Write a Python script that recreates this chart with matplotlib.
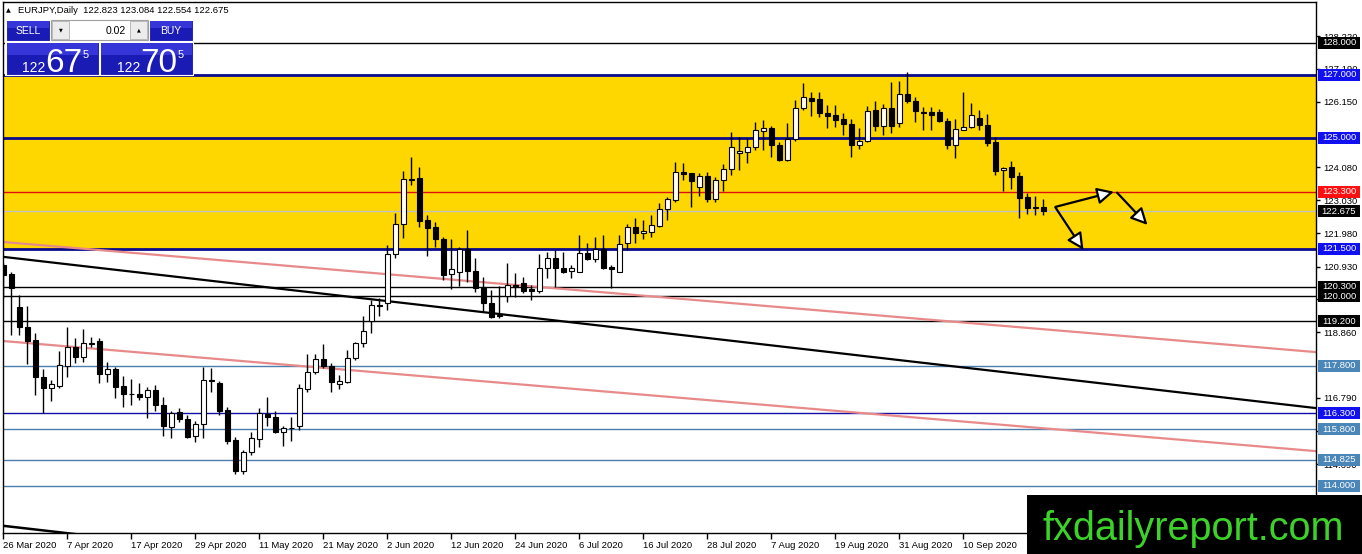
import matplotlib
matplotlib.use("Agg")
import matplotlib.pyplot as plt
import matplotlib.transforms as mtransforms
from matplotlib.patches import Rectangle

# ---------------- data ----------------
symbol_header = "EURJPY,Daily  122.823 123.084 122.554 122.675"

date_tick_idx = [0, 8, 16, 24, 32, 40, 48, 56, 64, 72, 80, 88, 96, 104, 112, 120]
date_tick_labels = ["26 Mar 2020", "7 Apr 2020", "17 Apr 2020", "29 Apr 2020",
                    "11 May 2020", "21 May 2020", "2 Jun 2020", "12 Jun 2020",
                    "24 Jun 2020", "6 Jul 2020", "16 Jul 2020", "28 Jul 2020",
                    "7 Aug 2020", "19 Aug 2020", "31 Aug 2020", "10 Sep 2020"]

opens = [120.98, 120.70, 119.67, 119.01, 118.61, 117.43, 117.09, 117.16, 117.80, 118.40,
         118.09, 118.52, 118.59, 117.54, 117.70, 117.16, 116.92, 116.91, 116.82, 117.03,
         116.56, 115.87, 116.33, 116.12, 115.58, 115.95, 117.36, 117.26, 116.40, 115.45,
         114.48, 115.06, 115.47, 116.27, 116.17, 115.72, 115.82, 115.90, 117.06, 117.59,
         118.00, 117.78, 117.22, 117.30, 118.03, 118.52, 119.21, 119.72, 119.77, 121.32,
         122.28, 123.69, 123.72, 122.41, 122.18, 121.80, 120.69, 120.77, 121.48, 120.80,
         120.25, 119.79, 119.40, 120.00, 120.35, 120.41, 120.22, 120.17, 120.88, 121.20,
         120.88, 120.80, 120.77, 121.35, 121.16, 121.49, 120.93, 120.77, 121.67, 122.19,
         121.99, 122.04, 122.22, 122.74, 123.04, 123.93, 123.88, 123.44, 123.80, 123.06,
         123.67, 124.02, 124.51, 124.56, 124.70, 125.23, 125.30, 124.78, 124.30, 124.96,
         125.94, 126.25, 126.22, 125.80, 125.72, 125.59, 125.44, 124.78, 124.90, 125.89,
         125.37, 125.95, 125.47, 126.39, 126.16, 125.83, 125.82, 125.82, 125.54, 124.79,
         125.26, 125.34, 125.63, 125.40, 124.87, 123.98, 124.07, 123.79, 123.12, 122.82,
         122.823]
highs = [121.05, 120.77, 120.04, 119.69, 118.82, 117.70, 117.35, 118.27, 119.03, 118.67,
         118.96, 118.70, 118.67, 117.91, 117.75, 117.48, 117.37, 117.24, 117.14, 117.19,
         116.82, 116.37, 116.45, 116.24, 116.06, 117.77, 117.72, 117.33, 116.51, 115.56,
         115.14, 115.72, 116.45, 116.82, 116.38, 115.90, 116.17, 117.22, 118.16, 118.16,
         118.49, 117.88, 117.51, 118.30, 118.55, 119.38, 119.88, 119.93, 121.62, 122.63,
         123.96, 124.41, 124.09, 122.56, 122.35, 121.86, 121.80, 121.56, 122.09, 121.20,
         120.61, 120.19, 120.32, 121.04, 120.73, 120.61, 120.35, 121.32, 121.40, 121.46,
         121.40, 120.98, 121.93, 121.67, 121.86, 121.93, 120.98, 121.93, 122.28, 122.46,
         122.41, 122.56, 122.95, 123.14, 124.25, 124.20, 123.88, 123.88, 123.93, 123.76,
         124.18, 125.20, 125.04, 124.99, 125.51, 125.57, 125.38, 124.88, 125.46, 126.20,
         126.73, 126.46, 126.46, 126.04, 126.04, 125.78, 125.59, 125.30, 126.01, 126.16,
         126.07, 126.77, 126.81, 127.07, 126.28, 125.97, 125.97, 125.92, 125.63, 125.61,
         126.45, 126.10, 125.89, 125.76, 125.02, 124.07, 124.28, 123.92, 123.26, 123.15,
         123.084]
lows = [119.94, 118.77, 118.77, 117.86, 116.87, 116.30, 116.69, 117.09, 117.45, 117.88,
        117.93, 118.38, 117.26, 117.28, 116.77, 116.51, 116.56, 116.72, 116.16, 116.38,
        115.59, 115.51, 116.01, 115.51, 115.40, 115.51, 116.98, 116.24, 115.33, 114.38,
        114.38, 114.98, 115.24, 115.90, 115.66, 115.27, 115.43, 115.77, 116.98, 117.53,
        117.72, 116.96, 117.05, 117.24, 117.98, 118.40, 118.85, 119.38, 119.56, 121.20,
        121.83, 123.51, 122.17, 121.27, 121.56, 120.51, 120.22, 120.32, 120.46, 120.14,
        119.51, 119.30, 119.30, 119.80, 119.98, 120.09, 119.88, 120.11, 120.56, 120.30,
        120.72, 120.56, 120.75, 121.14, 121.09, 120.86, 120.25, 120.75, 121.46, 121.67,
        121.80, 121.88, 122.18, 122.41, 122.98, 123.67, 122.81, 123.16, 122.98, 122.98,
        123.33, 123.83, 123.99, 124.20, 124.62, 124.62, 124.39, 124.28, 124.28, 124.91,
        125.88, 125.69, 125.67, 125.30, 125.34, 125.09, 124.41, 124.64, 124.88, 125.23,
        125.10, 125.16, 125.34, 126.10, 125.50, 125.26, 125.26, 125.50, 124.66, 124.37,
        125.26, 125.31, 125.26, 124.74, 123.82, 123.31, 123.40, 122.47, 122.60, 122.57,
        122.554]
closes = [120.67, 120.25, 119.01, 118.59, 117.43, 117.09, 117.21, 117.82, 118.40, 118.09,
          118.51, 118.50, 117.53, 117.70, 117.14, 116.91, 116.90, 116.81, 117.03, 116.55,
          115.90, 116.30, 116.11, 115.56, 115.95, 117.35, 117.33, 116.38, 115.43, 114.48,
          115.06, 115.51, 116.30, 116.17, 115.72, 115.82, 115.83, 117.09, 117.59, 118.00,
          117.79, 117.28, 117.33, 118.03, 118.51, 118.90, 119.72, 119.70, 121.33, 122.28,
          123.69, 123.66, 122.38, 122.16, 121.80, 120.67, 120.85, 121.48, 120.80, 120.25,
          119.79, 119.35, 119.36, 120.35, 120.33, 120.17, 120.16, 120.88, 121.20, 120.88,
          120.77, 120.88, 121.35, 121.16, 121.48, 120.90, 120.85, 121.65, 122.19, 121.99,
          122.06, 122.25, 122.74, 123.06, 123.93, 123.86, 123.65, 123.80, 123.06, 123.67,
          124.02, 124.70, 124.59, 124.70, 125.25, 125.30, 124.78, 124.30, 124.96, 125.94,
          126.28, 126.18, 125.78, 125.69, 125.57, 125.44, 124.78, 124.90, 125.86, 125.37,
          125.95, 125.37, 126.39, 126.16, 125.84, 125.80, 125.71, 125.53, 124.79, 125.28,
          125.34, 125.71, 125.40, 124.84, 123.96, 124.05, 123.76, 123.10, 122.79, 122.79,
          122.675]

# right price-axis grid labels (those fully hidden behind level boxes omitted)
price_ticks = [128.22, 127.19, 126.15, 124.08, 123.03, 121.98, 120.93,
               119.91, 118.86, 116.79, 115.74, 114.69, 113.64]

# horizontal levels
level_prices = [128.000, 127.000, 125.000, 123.300, 122.675, 121.500, 120.300,
                120.000, 119.200, 117.800, 116.300, 115.800, 114.825, 114.000]
zone_top, zone_bottom = 127.000, 121.500

# trend lines: (bar index, price) anchor pairs
black_trend = [(0.0, 121.24), (164.1, 116.46)]
black_trend_lower = [(0.0, 112.74), (164.1, 107.96)]
pink_trend_upper = [(0.0, 121.71), (164.1, 118.23)]
pink_trend_lower = [(0.0, 118.58), (164.1, 115.10)]

# scenario arrows: (start, end) in (bar index, price)
arrows = [((131.5, 122.82), (138.8, 123.30)),
          ((139.2, 123.27), (143.0, 122.25)),
          ((131.5, 122.80), (135.0, 121.46))]

# ---------------- styles ----------------
W, H, DPI = 1362, 554, 100
level_line_style = {
    128.000: ("black", 1.0), 127.000: ("#0a0a8c", 2.0), 125.000: ("#0a0a8c", 2.0),
    123.300: ("#e01010", 1.0), 122.675: ("#c0c0c0", 1.0), 121.500: ("#0a0a8c", 2.0),
    120.300: ("black", 1.0), 120.000: ("black", 1.0), 119.200: ("black", 1.0),
    117.800: ("#4a7fae", 1.0), 116.300: ("#1010a8", 1.0), 115.800: ("#4a7fae", 1.0),
    114.825: ("#4a7fae", 1.0), 114.000: ("#4a7fae", 1.0)}
level_box_color = {
    128.000: "black", 127.000: "#1010f0", 125.000: "#1010f0", 123.300: "#ff1010",
    122.675: "black", 121.500: "#1010f0", 120.300: "black", 120.000: "black",
    119.200: "black", 117.800: "#4a86b8", 116.300: "#1010f0", 115.800: "#4a86b8",
    114.825: "#4a86b8", 114.000: "#4a86b8"}

FONT = "Liberation Sans"
plt.rcParams["font.family"] = [FONT, "DejaVu Sans"]

fig = plt.figure(figsize=(W / DPI, H / DPI), dpi=DPI, facecolor="white")
ax_left, ax_right, ax_top, ax_bot = 3, 1316, 2, 533
ax = fig.add_axes([ax_left / W, (H - ax_bot) / H, (ax_right - ax_left) / W,
                   (ax_bot - ax_top) / H])
ax.set_facecolor("white")

px_per_bar = 8.0
x_left_bar = -0.06
ax.set_xlim(x_left_bar, x_left_bar + (ax_right - ax_left) / px_per_bar)
ppu = 31.64
y_top = 128.0 + (43 - ax_top) / ppu
y_bot = 128.0 - (ax_bot - 43) / ppu
ax.set_ylim(y_bot, y_top)

# zone
ax.axhspan(zone_bottom, zone_top, color="#ffd700", zorder=0.5, lw=0)

# levels
for p in level_prices:
    c, lw = level_line_style[p]
    ax.axhline(p, color=c, lw=lw, zorder=1.2)

# trend lines
for (p0, p1), c, lw in [(black_trend, "black", 1.6), (black_trend_lower, "black", 1.8),
                        (pink_trend_upper, "#e88a8a", 1.6), (pink_trend_lower, "#e88a8a", 1.6)]:
    ax.plot([p0[0], p1[0]], [p0[1], p1[1]], color=c, lw=lw, zorder=1.5,
            solid_capstyle="butt")

# candles
n = len(opens)
xs = list(range(n))
ax.vlines(xs, lows, highs, color="black", lw=1.0, zorder=3)
bottoms = [min(o, c) for o, c in zip(opens, closes)]
heights = [max(abs(c - o), 0.004) for o, c in zip(opens, closes)]
faces = ["white" if c >= o else "black" for o, c in zip(opens, closes)]
ax.bar(xs, heights, bottom=bottoms, width=0.56, color=faces, edgecolor="black",
       linewidth=0.8, zorder=4)

# arrows
for (s, e) in arrows:
    ax.annotate("", xy=e, xytext=s,
                arrowprops=dict(arrowstyle="-|>,head_length=1.0,head_width=0.5",
                                fc="white", ec="black", lw=1.6,
                                shrinkA=0, shrinkB=0), zorder=6)

# x axis
ax.set_xticks(date_tick_idx)
ax.set_xticklabels(date_tick_labels, ha="left", fontsize=6.8)
ax.tick_params(axis="x", direction="out", length=4, width=1, pad=2, colors="black")

# y axis on the right
ax.yaxis.tick_right()
ax.set_yticks(price_ticks)
ax.set_yticklabels([f"{v:.3f}" for v in price_ticks], fontsize=6.8)
ax.tick_params(axis="y", direction="out", length=3, width=1, pad=2, colors="black")
for sp in ax.spines.values():
    sp.set_color("black")
    sp.set_linewidth(1.0)

# level labels on price axis: fixed-size boxes
trans = mtransforms.blended_transform_factory(ax.transAxes, ax.transData)
ax_w_px = ax_right - ax_left
box_x0 = 1.0 + 2.0 / ax_w_px
box_w = 42.0 / ax_w_px
box_h = 12.0 / ppu
for p in level_prices:
    ax.add_patch(Rectangle((box_x0, p - box_h / 2), box_w, box_h, transform=trans,
                           fc=level_box_color[p], ec="none", clip_on=False, zorder=19))
    ax.text(box_x0 + box_w / 2, p, f"{p:.3f}", transform=trans, fontsize=6.8,
            color="white", va="center", ha="center", clip_on=False, zorder=20)

# ---------------- overlay (pixel coordinates) ----------------
ov = fig.add_axes([0, 0, 1, 1], zorder=10)
ov.set_xlim(0, W)
ov.set_ylim(H, 0)
ov.axis("off")
ov.patch.set_alpha(0)

# header
ov.text(6, 10.5, "\u25B2", fontsize=4.5, color="black", va="center", ha="left",
        family="DejaVu Sans")
ov.text(18, 10.5, symbol_header, fontsize=6.8, color="black", va="center", ha="left")

# one-click trading panel
blue_top, blue_bot = "#3535d8", "#1a1ab4"
def blue_box(x, y, w, h):
    ov.add_patch(Rectangle((x, y), w, h, fc=blue_bot, ec="white", lw=0.8))
    ov.add_patch(Rectangle((x + 1, y + 1), w - 2, h * 0.35, fc=blue_top, ec="none"))

ov.add_patch(Rectangle((5, 19), 189, 57, fc="white", ec="none"))
blue_box(6, 20, 44, 21)
blue_box(149, 20, 44, 21)
ov.text(28, 30.5, "SELL", color="white", fontsize=7.5, ha="center", va="center")
ov.text(171, 30.5, "BUY", color="white", fontsize=7.5, ha="center", va="center")
ov.add_patch(Rectangle((51, 20), 97, 20, fc="white", ec="#a0a0a0", lw=0.8))
ov.add_patch(Rectangle((52, 21), 17, 18, fc="#ececec", ec="#b0b0b0", lw=0.6))
ov.add_patch(Rectangle((130, 21), 17, 18, fc="#ececec", ec="#b0b0b0", lw=0.6))
ov.text(60.5, 30, "\u25BC", fontsize=3.5, ha="center", va="center", family="DejaVu Sans")
ov.text(138.5, 30, "\u25B2", fontsize=3.5, ha="center", va="center", family="DejaVu Sans")
ov.text(126, 30.5, "0.02", fontsize=7.5, ha="right", va="center", color="black")

blue_box(6, 42, 93, 33)
blue_box(100, 42, 93, 33)
sell_parts, buy_parts = ("122", "67", "5"), ("122", "70", "5")
for x0, parts in [(22, sell_parts), (117, buy_parts)]:
    ov.text(x0, 72, parts[0], color="white", fontsize=10, ha="left", va="baseline")
    ov.text(x0 + 23, 72.5, parts[1], color="white", fontsize=24, ha="left", va="baseline")
    ov.text(x0 + 61, 58.5, parts[2], color="white", fontsize=8, ha="left", va="baseline")

# watermark
ov.add_patch(Rectangle((1027, 495), W - 1027, H - 495, fc="black", ec="none"))
ov.text(1193, 540, "fxdailyreport.com", color="#3cd22a", fontsize=28.5,
        ha="center", va="baseline")

fig.savefig("out.png", dpi=DPI, facecolor="white")
